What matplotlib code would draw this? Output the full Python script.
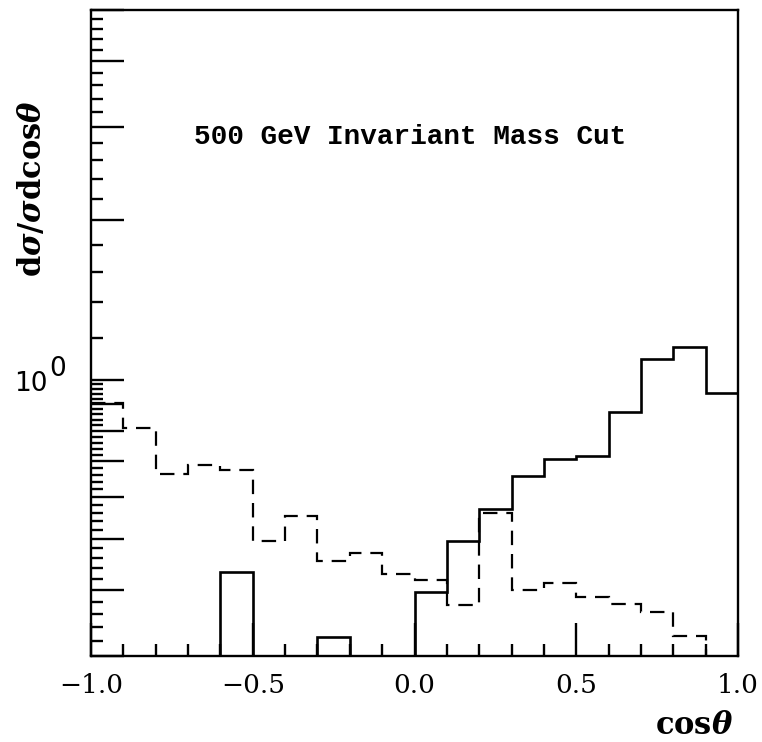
import matplotlib
matplotlib.use("Agg")
import matplotlib.pyplot as plt
import matplotlib.transforms as mtransforms
import numpy as np
from matplotlib.ticker import FixedLocator, NullFormatter

plt.rcParams["mathtext.fontset"] = "dejavuserif"

# bin edges in cos(theta), 20 bins of width 0.1
bin_edges = np.round(np.arange(-1.0, 1.0001, 0.1), 2)

# normalised distributions (0 = empty bin)
solid_values = [0, 0, 0, 0, 0.433, 0, 0, 0.326, 0, 0,
                0.396, 0.495, 0.570, 0.656, 0.708, 0.717, 0.870, 1.094, 1.154, 0.942]
dashed_values = [0.901, 0.810, 0.663, 0.688, 0.673, 0.495, 0.552, 0.453, 0.469, 0.429,
                 0.418, 0.375, 0.560, 0.400, 0.412, 0.388, 0.376, 0.364, 0.328, 0]

x_major = [-1.0, -0.5, 0.0, 0.5, 1.0]
x_labels = ["\u22121.0", "\u22120.5", "0.0", "0.5", "1.0"]
x_minor = [-0.9, -0.8, -0.7, -0.6, -0.4, -0.3, -0.2, -0.1,
           0.1, 0.2, 0.3, 0.4, 0.6, 0.7, 0.8, 0.9]

y_major = [0.3, 0.4, 0.5, 0.6, 0.7, 0.8, 0.9, 1.0, 2.0, 3.0, 4.0, 5.0]
y_minor = [round(v, 2) for v in np.arange(0.32, 0.999, 0.02) if round(v, 2) * 10 % 1 > 1e-6] + \
          [round(v, 1) for v in np.arange(1.2, 4.99, 0.2) if abs(round(v, 1) - round(v)) > 1e-6]

title_text = "500 GeV Invariant Mass Cut"
y_title = r"d$\boldsymbol{\sigma}$/$\boldsymbol{\sigma}$dcos$\boldsymbol{\theta}$"
x_title = r"cos$\boldsymbol{\theta}$"

fig = plt.figure(figsize=(7.62, 7.42), dpi=100)
ax = fig.add_axes([91 / 762, 1 - 656 / 742, (738 - 91) / 762, (656 - 10) / 742])

ax.stairs(solid_values, bin_edges, baseline=None, color="black", linewidth=1.9)
ax.stairs(dashed_values, bin_edges, baseline=None, color="black", linewidth=1.6,
          linestyle=(0, (6.5, 4)))

ax.set_yscale("log")
ax.set_xlim(-1.0, 1.0)
ax.set_ylim(0.3, 5.0)

for side in ["left", "right", "top", "bottom"]:
    ax.spines[side].set_linewidth(1.7)

ax.xaxis.set_major_locator(FixedLocator(x_major))
ax.xaxis.set_minor_locator(FixedLocator(x_minor))
ax.set_xticklabels(x_labels, fontfamily="DejaVu Serif", fontsize=19)
ax.yaxis.set_major_locator(FixedLocator(y_major))
ax.yaxis.set_minor_locator(FixedLocator(y_minor))
ax.yaxis.set_major_formatter(NullFormatter())
ax.yaxis.set_minor_formatter(NullFormatter())

ax.tick_params(which="both", direction="in", top=False, right=False, width=1.7)
ax.tick_params(which="major", length=23.5)
ax.tick_params(which="minor", length=8.5)
ax.tick_params(axis="x", which="major", pad=12)

# the single y label at 10^0, drawn with a full size exponent like the original
trans = mtransforms.blended_transform_factory(fig.transFigure, ax.transData)
ax.text(14 / 762, 1.0, "10", transform=trans + mtransforms.ScaledTranslation(0, -0.04, fig.dpi_scale_trans),
        fontsize=19, fontfamily="DejaVu Sans", ha="left", va="center")
ax.text(49 / 762, 1.0, "0", transform=trans + mtransforms.ScaledTranslation(0, 0.11, fig.dpi_scale_trans),
        fontsize=19, fontfamily="DejaVu Sans", ha="left", va="center")

ax.text(410 / 762, 1 - 137 / 742, title_text, transform=fig.transFigure,
        fontfamily="Liberation Mono", fontweight="bold", fontsize=20,
        ha="center", va="center")

fig.text(33 / 762, 1 - 188 / 742, y_title, rotation=90,
         fontfamily="DejaVu Serif", fontweight="bold", fontsize=22,
         ha="center", va="center")
fig.text(694 / 762, 1 - 726 / 742, x_title, fontfamily="DejaVu Serif",
         fontweight="bold", fontsize=22, ha="center", va="center")

fig.savefig("out.png", dpi=100)
